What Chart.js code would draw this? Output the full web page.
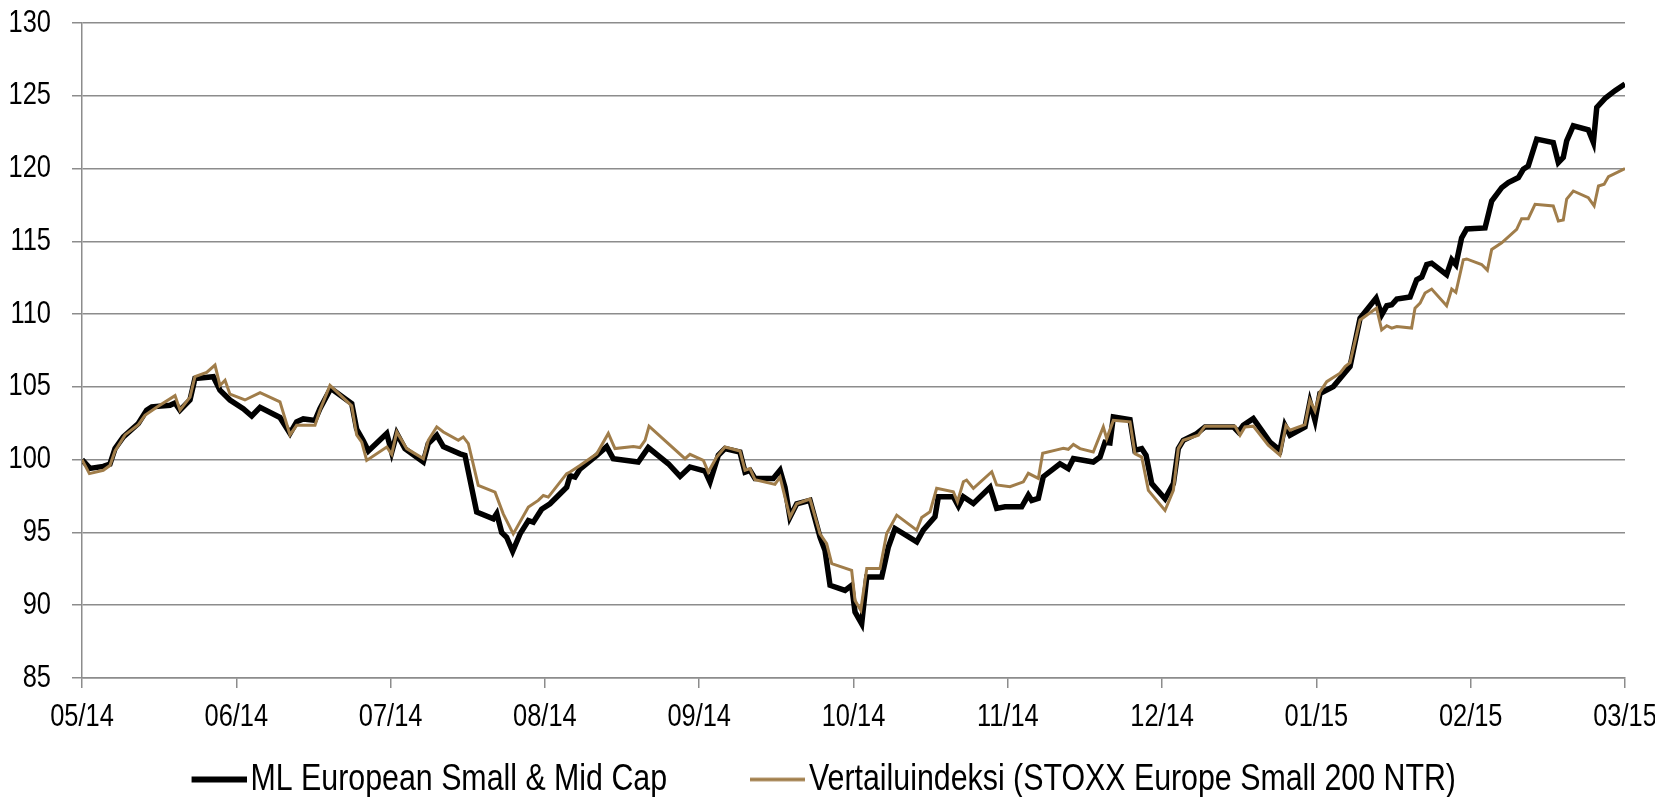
<!DOCTYPE html>
<html>
<head>
<meta charset="utf-8">
<script src="https://cdn.jsdelivr.net/npm/chart.js@4/dist/chart.umd.min.js"></script>
<style>
  body { margin: 0; background: #fff; }
</style>
</head>
<body>
<canvas id="myChart" width="1655" height="797"></canvas>
<script>
// month tick labels, x positions are in months from 05/14
const monthLabels = ['05/14', '06/14', '07/14', '08/14', '09/14', '10/14', '11/14', '12/14', '01/15', '02/15', '03/15'];

const mlMonths = [0.000, 0.052, 0.138, 0.181, 0.214, 0.268, 0.365, 0.419, 0.452, 0.570, 0.603, 0.635, 0.700, 0.732, 0.851, 0.894, 0.959, 1.045, 1.100, 1.154, 1.283, 1.348, 1.391, 1.434, 1.510, 1.542, 1.612, 1.748, 1.780, 1.823, 1.856, 1.975, 2.007, 2.040, 2.093, 2.212, 2.244, 2.299, 2.342, 2.450, 2.482, 2.558, 2.666, 2.688, 2.720, 2.752, 2.791, 2.839, 2.893, 2.925, 2.979, 3.033, 3.141, 3.163, 3.195, 3.227, 3.336, 3.400, 3.443, 3.605, 3.670, 3.800, 3.876, 3.940, 4.038, 4.070, 4.124, 4.167, 4.264, 4.297, 4.329, 4.362, 4.480, 4.524, 4.556, 4.588, 4.632, 4.718, 4.783, 4.815, 4.848, 4.945, 4.988, 5.010, 5.053, 5.086, 5.183, 5.226, 5.269, 5.410, 5.452, 5.528, 5.550, 5.647, 5.680, 5.712, 5.777, 5.885, 5.928, 5.982, 6.090, 6.133, 6.155, 6.198, 6.230, 6.338, 6.392, 6.425, 6.554, 6.598, 6.630, 6.662, 6.684, 6.792, 6.824, 6.868, 6.896, 6.933, 7.019, 7.073, 7.105, 7.137, 7.224, 7.278, 7.462, 7.494, 7.526, 7.591, 7.699, 7.764, 7.796, 7.829, 7.926, 7.958, 7.991, 8.023, 8.110, 8.164, 8.218, 8.283, 8.387, 8.423, 8.456, 8.488, 8.521, 8.607, 8.650, 8.683, 8.715, 8.747, 8.844, 8.877, 8.904, 8.941, 8.974, 9.093, 9.136, 9.201, 9.244, 9.309, 9.341, 9.373, 9.428, 9.535, 9.568, 9.600, 9.622, 9.665, 9.762, 9.795, 9.817, 9.871, 9.935, 10.000];
const mlValues = [100.0, 99.4, 99.54, 99.7, 100.76, 101.56, 102.48, 103.4, 103.63, 103.74, 103.9, 103.4, 104.1, 105.58, 105.7, 104.78, 104.1, 103.5, 103.0, 103.6, 102.9, 101.8, 102.6, 102.8, 102.7, 103.5, 104.9, 103.86, 102.1, 101.3, 100.6, 101.8, 100.5, 101.8, 100.76, 99.84, 101.1, 101.68, 100.9, 100.4, 100.3, 96.4, 95.94, 96.3, 95.0, 94.67, 93.71, 94.9, 95.82, 95.7, 96.6, 96.97, 98.1, 98.9, 98.8, 99.35, 100.3, 100.9, 100.07, 99.84, 100.83, 99.72, 98.85, 99.5, 99.22, 98.46, 100.3, 100.76, 100.53, 99.15, 99.27, 98.7, 98.7, 99.27, 98.1, 96.05, 96.97, 97.2, 94.67, 93.78, 91.37, 91.02, 91.37, 89.53, 88.73, 91.94, 91.94, 94.0, 95.27, 94.35, 95.16, 96.07, 97.45, 97.45, 96.8, 97.45, 96.99, 98.1, 96.65, 96.76, 96.76, 97.57, 97.2, 97.34, 98.83, 99.72, 99.38, 100.07, 99.84, 100.18, 101.2, 101.15, 102.94, 102.75, 100.64, 100.76, 100.3, 98.35, 97.31, 98.35, 100.76, 101.33, 101.79, 102.25, 102.25, 101.9, 102.36, 102.82, 101.2, 100.64, 102.36, 101.68, 102.25, 103.97, 102.7, 104.55, 105.02, 105.71, 106.4, 109.72, 111.1, 109.95, 110.57, 110.64, 111.03, 111.17, 112.36, 112.55, 113.4, 113.5, 112.71, 113.74, 113.4, 115.23, 115.85, 115.92, 117.77, 118.69, 119.04, 119.38, 119.95, 120.18, 122.02, 121.79, 120.41, 120.76, 121.9, 122.94, 122.66, 121.79, 124.2, 124.82, 125.35, 125.81];

const refMonths = [0.000, 0.048, 0.138, 0.181, 0.214, 0.279, 0.365, 0.408, 0.484, 0.603, 0.635, 0.700, 0.732, 0.808, 0.862, 0.894, 0.927, 0.959, 1.056, 1.154, 1.283, 1.348, 1.391, 1.510, 1.542, 1.607, 1.748, 1.780, 1.813, 1.845, 1.975, 2.007, 2.040, 2.104, 2.212, 2.244, 2.299, 2.342, 2.439, 2.471, 2.504, 2.568, 2.677, 2.730, 2.795, 2.893, 2.957, 2.990, 3.022, 3.141, 3.163, 3.195, 3.227, 3.336, 3.411, 3.454, 3.573, 3.616, 3.649, 3.675, 3.789, 3.908, 3.940, 4.027, 4.059, 4.113, 4.167, 4.264, 4.297, 4.329, 4.362, 4.491, 4.524, 4.588, 4.632, 4.718, 4.783, 4.826, 4.859, 4.988, 5.010, 5.047, 5.086, 5.172, 5.215, 5.280, 5.410, 5.442, 5.496, 5.539, 5.647, 5.674, 5.712, 5.733, 5.777, 5.896, 5.928, 6.014, 6.101, 6.133, 6.198, 6.226, 6.317, 6.360, 6.392, 6.425, 6.468, 6.554, 6.619, 6.641, 6.684, 6.792, 6.824, 6.868, 6.911, 7.019, 7.073, 7.105, 7.137, 7.235, 7.278, 7.473, 7.505, 7.537, 7.591, 7.688, 7.764, 7.803, 7.829, 7.926, 7.958, 7.991, 8.023, 8.067, 8.153, 8.186, 8.218, 8.283, 8.390, 8.423, 8.456, 8.488, 8.521, 8.617, 8.639, 8.672, 8.704, 8.747, 8.844, 8.877, 8.904, 8.952, 8.974, 9.071, 9.108, 9.136, 9.201, 9.298, 9.330, 9.373, 9.417, 9.535, 9.568, 9.600, 9.622, 9.665, 9.762, 9.800, 9.828, 9.865, 9.893, 10.000];
const refValues = [100.0, 99.04, 99.27, 99.6, 100.6, 101.7, 102.4, 103.05, 103.6, 104.4, 103.4, 104.3, 105.7, 106.0, 106.5, 105.1, 105.46, 104.5, 104.1, 104.6, 103.97, 101.7, 102.36, 102.36, 103.4, 105.1, 103.7, 101.7, 101.2, 99.95, 100.87, 100.37, 101.9, 100.76, 100.07, 101.33, 102.25, 101.9, 101.33, 101.56, 101.1, 98.23, 97.77, 96.28, 94.9, 96.74, 97.2, 97.54, 97.43, 99.04, 99.15, 99.38, 99.6, 100.4, 101.8, 100.76, 100.9, 100.83, 101.33, 102.3, 101.2, 100.07, 100.37, 99.95, 99.15, 100.18, 100.87, 100.6, 99.27, 99.38, 98.62, 98.3, 98.8, 96.05, 96.97, 97.3, 94.9, 94.24, 92.86, 92.4, 90.33, 89.65, 92.52, 92.52, 94.93, 96.19, 95.16, 96.03, 96.42, 98.03, 97.8, 97.11, 98.48, 98.6, 98.03, 99.17, 98.26, 98.14, 98.48, 99.06, 98.71, 100.44, 100.67, 100.78, 100.71, 101.05, 100.76, 100.53, 102.25, 101.45, 102.7, 102.6, 100.41, 100.18, 97.89, 96.51, 97.89, 100.76, 101.33, 101.68, 102.3, 102.3, 101.68, 102.25, 102.3, 100.99, 100.3, 102.36, 102.02, 102.4, 104.1, 103.35, 104.66, 105.36, 105.94, 106.4, 106.67, 109.6, 110.41, 108.92, 109.2, 109.04, 109.15, 109.04, 110.41, 110.76, 111.45, 111.72, 110.57, 111.72, 111.49, 113.74, 113.79, 113.41, 113.02, 114.44, 114.9, 115.82, 116.56, 116.56, 117.54, 117.43, 116.4, 116.46, 117.9, 118.46, 118.0, 117.43, 118.8, 118.92, 119.45, 120.0];

const seriesNames = ['ML European Small & Mid Cap', 'Vertailuindeksi (STOXX Europe Small 200 NTR)'];

const fontFamily = "'Liberation Sans', Arial, sans-serif";
const gridGrey = '#8c8c8c';
const brown = '#a07d4a';

function pairs(xs, ys) {
    return xs.map((x, i) => ({x: x, y: ys[i]}));
}

// legend sample: a line sitting close to the text (chart.js leaves fontSize/2 gap)
function legendLine(color, width) {
    const c = document.createElement('canvas');
    c.width = 84;
    c.height = 10;
    const g = c.getContext('2d');
    g.strokeStyle = color;
    g.lineWidth = width;
    g.beginPath();
    g.moveTo(29, 5);
    g.lineTo(84, 5);
    g.stroke();
    return c;
}

const ctx = document.getElementById('myChart');

// no narrow font installed: squeeze canvas text horizontally (still drawn with fillText)
const squeeze = 0.82;
const c2d = ctx.getContext('2d');
const origFill = c2d.fillText.bind(c2d);
const origMeasure = c2d.measureText.bind(c2d);
c2d.fillText = function (text, x, y, maxWidth) {
    this.save();
    this.translate(x, y);
    this.scale(squeeze, 1);
    if (maxWidth === undefined) origFill(text, 0, 0);
    else origFill(text, 0, 0, maxWidth / squeeze);
    this.restore();
};
c2d.measureText = function (text) {
    const m = origMeasure(text);
    return {
        width: m.width * squeeze,
        actualBoundingBoxAscent: m.actualBoundingBoxAscent,
        actualBoundingBoxDescent: m.actualBoundingBoxDescent,
        actualBoundingBoxLeft: m.actualBoundingBoxLeft * squeeze,
        actualBoundingBoxRight: m.actualBoundingBoxRight * squeeze
    };
};

const defaultLabels = Chart.defaults.plugins.legend.labels.generateLabels;
const legendSamples = [legendLine('#000000', 6), legendLine(brown, 3.5)];

// legend sits a little right of the canvas centre in the original
const shiftLegend = {
    id: 'shiftLegend',
    afterLayout(chart) {
        chart.legend.left += 4;
        chart.legend.right += 4;
    }
};

const myChart = new Chart(ctx, {
    type: 'line',
    data: {
        datasets: [{
            label: seriesNames[0],
            data: pairs(mlMonths, mlValues),
            borderColor: '#000000',
            backgroundColor: '#000000',
            borderWidth: 5.5,
            pointRadius: 0,
            tension: 0,
            order: 2,
        },
        {
            label: seriesNames[1],
            data: pairs(refMonths, refValues),
            borderColor: brown,
            backgroundColor: brown,
            borderWidth: 3,
            pointRadius: 0,
            tension: 0,
            order: 1,
        }],
    },
    plugins: [shiftLegend],
    options: {
        responsive: false,
        animation: false,
        // negative bottom padding: legend keeps an empty 10px strip under itself
        layout: { padding: { top: 23, right: 30, bottom: -11, left: 0 } },
        plugins: {
            tooltip: { enabled: false },
            legend: {
                position: 'bottom',
                labels: {
                    usePointStyle: true,
                    pointStyleWidth: 55,
                    color: '#000',
                    padding: 1,
                    font: { family: fontFamily, size: 37, lineHeight: 1 },
                    sort: (a, b) => a.datasetIndex - b.datasetIndex,
                    generateLabels: chart => {
                        const items = defaultLabels(chart);
                        items.forEach(it => {
                            it.pointStyle = legendSamples[it.datasetIndex];
                            if (it.datasetIndex === 0) it.text = it.text + '        ';
                        });
                        return items;
                    }
                }
            }
        },
        scales: {
            x: {
                type: 'linear',
                min: 0,
                max: 10,
                ticks: {
                    stepSize: 1,
                    autoSkip: false,
                    maxRotation: 0,
                    color: '#000',
                    padding: 11,
                    font: { family: fontFamily, size: 31 },
                    callback: v => monthLabels[v]
                },
                grid: {
                    drawOnChartArea: false,
                    drawTicks: true,
                    tickLength: 10,
                    color: gridGrey,
                    lineWidth: 1.5
                },
                border: { color: gridGrey, width: 1.5 },
                afterFit: s => { s.height = 82; s.paddingLeft = 0; s.paddingRight = 0; }
            },
            y: {
                min: 85,
                max: 130,
                ticks: {
                    stepSize: 5,
                    color: '#000',
                    padding: 21,
                    font: { family: fontFamily, size: 31 }
                },
                grid: {
                    color: gridGrey,
                    lineWidth: 1.5,
                    tickLength: 10
                },
                border: { color: gridGrey, width: 1.5 },
                afterFit: s => { s.width = 82; s.paddingTop = 0; s.paddingBottom = 0; }
            }
        }
    }
});
</script>
</body>
</html>
